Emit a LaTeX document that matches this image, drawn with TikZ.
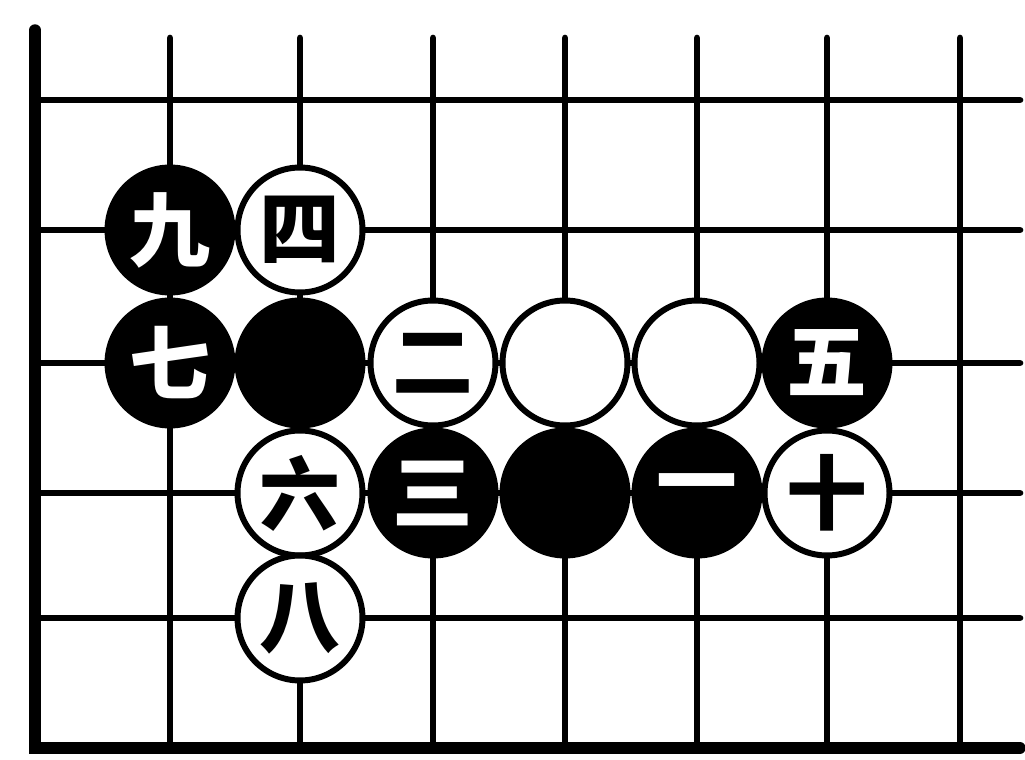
\documentclass[tikz,border=0pt]{standalone}
\usepackage{fontspec}
\newfontfamily\cjk{Noto Sans CJK SC}
\begin{document}
\begin{tikzpicture}[x=0.02cm,y=-0.02cm,
  gridline/.style={line width=3.8pt,line cap=round},
  edgeline/.style={line width=6.5pt,line cap=round},
  stone/.style={circle,minimum size=2.5cm,inner sep=0pt,line width=3.4pt,
    font=\cjk\bfseries\fontsize{46}{46}\selectfont},
  bstone/.style={stone,draw=black,fill=black,text=white},
  wstone/.style={stone,draw=black,fill=white,text=black}]
\useasboundingbox (0,0) rectangle (1025,760);
% board lines
\foreach \x in {170,300,433,565,697,827,960}
  \draw[gridline] (\x,38) -- (\x,748);
\foreach \y in {100,230,363,493,618}
  \draw[gridline] (35,\y) -- (1020,\y);
\draw[edgeline] (35,30) -- (35,748) -- (1020,748);
% stones
\node[bstone] (s9) at (170,230) {九};
\node[wstone] (s4) at (300,230) {四};
\node[bstone] (s7) at (170,363) {七};
\node[bstone] (b1) at (300,363) {};
\node[wstone] (s2) at (433,363) {二};
\node[wstone] (w1) at (565,363) {};
\node[wstone] (w2) at (697,363) {};
\node[bstone] (s5) at (827,363) {五};
\node[wstone] (s6) at (300,493) {六};
\node[bstone] (s3) at (433,493) {三};
\node[bstone] (b2) at (565,493) {};
\node[bstone] (s1) at (697,493) {一};
\node[wstone] (s10) at (827,493) {十};
\node[wstone] (s8) at (300,618) {八};
\end{tikzpicture}
\end{document}
